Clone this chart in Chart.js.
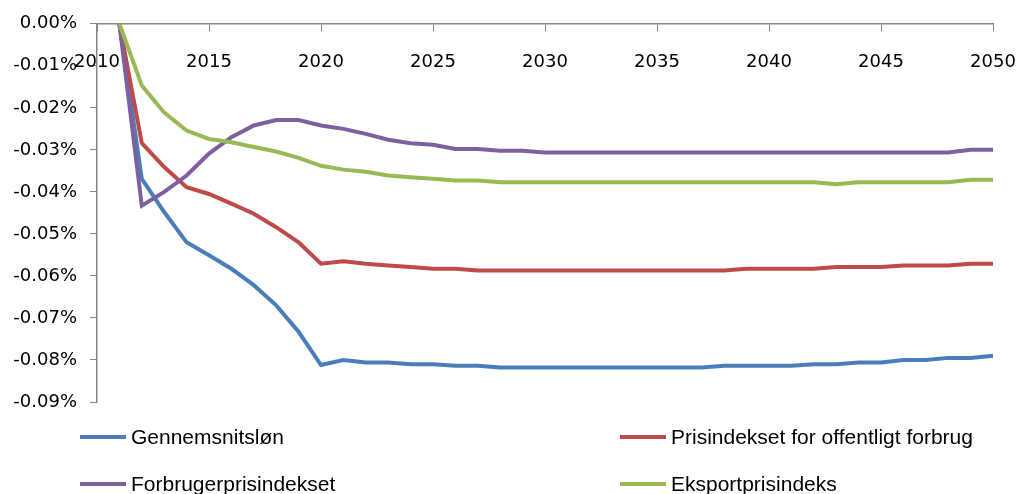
<!DOCTYPE html>
<html>
<head>
<meta charset="utf-8">
<script src="https://cdn.jsdelivr.net/npm/chart.js@4/dist/chart.umd.min.js"></script>
<style>
  body { margin: 0; background: #fff; }
  #wrap { position: relative; width: 1019px; height: 494px; }
  #legend { position: absolute; left: 0; top: 0; width: 1019px; height: 494px; pointer-events: none;
            font-family: "Liberation Sans", sans-serif; font-size: 21px; color: #000; }
  .item { position: absolute; display: flex; align-items: center; white-space: nowrap; }
  .item span.ln { display: inline-block; width: 46px; height: 4px; margin-right: 5px; }
</style>
</head>
<body>
<div id="wrap">
  <canvas id="myChart"></canvas>
  <div id="legend"></div>
</div>
<script>
// aar 2011-2050
let years = [];
for (let y = 2011; y <= 2050; y++) years.push(y);

let seriesNames = ["Gennemsnitsløn", "Prisindekset for offentligt forbrug", "Forbrugerprisindekset", "Eksportprisindeks"];
let seriesColors = ['#4A7EBB', '#BE4B48', '#7D60A0', '#98B954'];

let gennemsnitslon = [0, -0.0369, -0.0448, -0.0520, -0.0551, -0.0583, -0.0622, -0.0670, -0.0733, -0.0812,
    -0.0800, -0.0806, -0.0806, -0.0810, -0.0810, -0.0814, -0.0814, -0.0818, -0.0818, -0.0818,
    -0.0818, -0.0818, -0.0818, -0.0818, -0.0818, -0.0818, -0.0818, -0.0814, -0.0814, -0.0814,
    -0.0814, -0.0810, -0.0810, -0.0806, -0.0806, -0.0800, -0.0800, -0.0795, -0.0795, -0.0790];

let offentligtForbrug = [0, -0.0284, -0.0341, -0.0389, -0.0405, -0.0428, -0.0452, -0.0484, -0.0520, -0.0571,
    -0.0565, -0.0571, -0.0575, -0.0579, -0.0583, -0.0583, -0.0587, -0.0587, -0.0587, -0.0587,
    -0.0587, -0.0587, -0.0587, -0.0587, -0.0587, -0.0587, -0.0587, -0.0587, -0.0583, -0.0583,
    -0.0583, -0.0583, -0.0579, -0.0579, -0.0579, -0.0575, -0.0575, -0.0575, -0.0571, -0.0571];

let forbrugerpris = [0, -0.0433, -0.0400, -0.0361, -0.0309, -0.0270, -0.0242, -0.0229, -0.0229, -0.0242,
    -0.0250, -0.0262, -0.0276, -0.0284, -0.0288, -0.0298, -0.0298, -0.0302, -0.0302, -0.0306,
    -0.0306, -0.0306, -0.0306, -0.0306, -0.0306, -0.0306, -0.0306, -0.0306, -0.0306, -0.0306,
    -0.0306, -0.0306, -0.0306, -0.0306, -0.0306, -0.0306, -0.0306, -0.0306, -0.0300, -0.0300];

let eksportpris = [0, -0.0147, -0.0211, -0.0254, -0.0274, -0.0282, -0.0293, -0.0304, -0.0319, -0.0338,
    -0.0347, -0.0352, -0.0361, -0.0365, -0.0369, -0.0373, -0.0373, -0.0377, -0.0377, -0.0377,
    -0.0377, -0.0377, -0.0377, -0.0377, -0.0377, -0.0377, -0.0377, -0.0377, -0.0377, -0.0377,
    -0.0377, -0.0377, -0.0382, -0.0377, -0.0377, -0.0377, -0.0377, -0.0377, -0.0371, -0.0371];

let allSeries = [gennemsnitslon, offentligtForbrug, forbrugerpris, eksportpris];

function toPoints(vals) {
    return vals.map((v, i) => ({ x: years[i], y: v }));
}

let axisColor = '#868686';
let tickFont = { family: "'DejaVu Sans', Verdana, sans-serif", size: 18 };

let ctx = document.getElementById('myChart').getContext('2d');
let chart = new Chart(ctx, {
    type: 'line',
    data: {
        datasets: allSeries.map((vals, i) => ({
            label: seriesNames[i],
            data: toPoints(vals),
            borderColor: seriesColors[i],
            backgroundColor: seriesColors[i],
            borderWidth: 4,
            pointRadius: 0,
            tension: 0,
            clip: false,
            order: 4 - i
        }))
    },
    options: {
        responsive: true,
        maintainAspectRatio: false,
        animation: false,
        layout: { padding: { left: 0, top: 23, right: 26, bottom: 92 } },
        plugins: { legend: { display: false }, tooltip: { enabled: false } },
        scales: {
            x: {
                type: 'linear',
                position: { y: 0 },
                min: 2010,
                max: 2050,
                afterFit: s => { s.height = 0; s.paddingLeft = 0; s.paddingRight = 0; },
                ticks: { stepSize: 5, color: '#000', font: tickFont, padding: 21, maxRotation: 0,
                         callback: v => String(v) },
                grid: { display: true, drawOnChartArea: false, drawTicks: true, tickLength: 7, color: axisColor },
                border: { display: true, color: axisColor, width: 1.5 }
            },
            y: {
                min: -0.09,
                max: 0,
                afterFit: s => { s.width = 97; },
                ticks: { stepSize: 0.01, color: '#000', font: tickFont, padding: 13,
                         callback: v => (Math.abs(v) < 1e-9 ? 0 : v).toFixed(2) + '%' },
                grid: { display: true, drawOnChartArea: false, drawTicks: true, tickLength: 7, color: axisColor },
                border: { display: true, color: axisColor, width: 1.5 }
            }
        }
    }
});

// legend i to kolonner
let legendPos = [[80, 437], [620, 437], [80, 484], [620, 484]];
let legend = document.getElementById('legend');
seriesNames.forEach((name, i) => {
    let d = document.createElement('div');
    d.className = 'item';
    d.style.left = legendPos[i][0] + 'px';
    d.style.top = (legendPos[i][1] - 14) + 'px';
    d.style.height = '28px';
    d.innerHTML = '<span class="ln" style="background:' + seriesColors[i] + '"></span><span>' + name + '</span>';
    legend.appendChild(d);
});
</script>
</body>
</html>
